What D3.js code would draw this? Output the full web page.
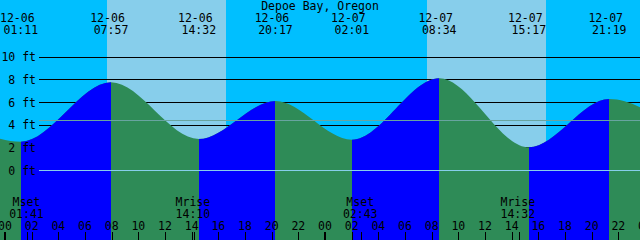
<!DOCTYPE html>
<html>
<head>
<meta charset="utf-8">
<script src="https://cdn.jsdelivr.net/npm/d3@7"></script>
<style>
  body { margin: 0; background: #fff; }
  svg { display: block; }
  text { font-family: "DejaVu Sans Mono", monospace; font-size: 11.5px; fill: #000; }
  rect, line { shape-rendering: crispEdges; }
</style>
</head>
<body>
<svg id="chart"></svg>
<script>
// Tide extrema (first and last are off-screen, they shape the edges)
const tideTimes = ["12-05 18:25", "12-06 01:11", "12-06 07:57", "12-06 14:32", "12-06 20:17",
                   "12-07 02:01", "12-07 08:34", "12-07 15:17", "12-07 21:19", "12-08 03:10"];
const tideHeights = [6.0, 2.5, 7.74, 2.73, 6.09, 2.68, 8.1, 2.0, 6.26, 2.7];

// Sun
const sunRise = ["12-06 07:38", "12-07 07:38"];
const sunSet = ["12-06 16:35", "12-07 16:35"];

// Moon events
const moonNames = ["Mset", "Mrise", "Mset", "Mrise"];
const moonTimes = ["12-06 01:41", "12-06 14:10", "12-07 02:43", "12-07 14:32"];

// Height axis
const heightTicks = [10, 8, 6, 4, 2, 0];
const meanLevel = 4.39;
const title = "Depoe Bay, Oregon";

const width = 640;
const height = 240;

// hours since 12-06 00:00
const parseT = s => (+s.slice(3, 5) - 6) * 24 + (+s.slice(6, 8)) + (+s.slice(9, 11)) / 60;

const x = d3.scaleLinear().domain([0, 48]).range([5, 645]);
const y = d3.scaleLinear().domain([0, 10]).range([170, 56.7]);
const px = t => Math.round(x(t));

const svg = d3.select("#chart")
    .attr("width", width)
    .attr("height", height);

// Night background, then day bands
svg.append("rect")
    .attr("width", width)
    .attr("height", height)
    .attr("fill", "#00bfff");

svg.selectAll(".day")
    .data(sunRise.map((d, i) => [parseT(d), parseT(sunSet[i])]))
    .enter().append("rect")
    .attr("class", "day")
    .attr("x", d => px(d[0]))
    .attr("width", d => px(d[1]) - px(d[0]))
    .attr("y", 0)
    .attr("height", height)
    .attr("fill", "#87ceeb");

// Height grid lines (behind the water)
svg.selectAll(".grid")
    .data(heightTicks.filter(d => d !== 0))
    .enter().append("line")
    .attr("class", "grid")
    .attr("x1", 39).attr("x2", width)
    .attr("y1", d => Math.round(y(d)) + 0.5)
    .attr("y2", d => Math.round(y(d)) + 0.5)
    .attr("stroke", "#000");

// Tide curve
const tide = tideTimes.map((t, i) => ({ t: parseT(t), h: tideHeights[i] }));

const area = d3.area()
    .x(d => x(d.t))
    .y0(height)
    .y1(d => y(d.h))
    .curve(d3.curveMonotoneX);

svg.append("clipPath")
    .attr("id", "water")
    .append("path")
    .attr("d", area(tide));

// falling water = green underneath, rising parts painted blue
svg.append("path")
    .attr("d", area(tide))
    .attr("fill", "#2e8b57");

svg.append("g")
    .attr("clip-path", "url(#water)")
    .selectAll("rect")
    .data(d3.pairs(tide).filter(d => d[1].h > d[0].h))
    .enter().append("rect")
    .attr("x", d => px(d[0].t))
    .attr("width", d => px(d[1].t) - px(d[0].t))
    .attr("y", 0)
    .attr("height", height)
    .attr("fill", "#0000ff");

// Mean level and datum lines on top
svg.append("line")
    .attr("x1", 39).attr("x2", width)
    .attr("y1", Math.round(y(meanLevel)) + 0.5)
    .attr("y2", Math.round(y(meanLevel)) + 0.5)
    .attr("stroke", "#68a4a0");

svg.append("line")
    .attr("x1", 39).attr("x2", width)
    .attr("y1", Math.round(y(0)) + 0.5)
    .attr("y2", Math.round(y(0)) + 0.5)
    .attr("stroke", "#87ceeb");

// Height labels
svg.selectAll(".hlabel")
    .data(heightTicks)
    .enter().append("text")
    .attr("class", "hlabel")
    .attr("x", 36)
    .attr("y", d => y(d) + 4.5)
    .attr("text-anchor", "end")
    .text(d => `${d} ft`);

// Title
svg.append("text")
    .attr("x", width / 2)
    .attr("y", 9.5)
    .attr("text-anchor", "middle")
    .text(title);

// Extrema labels
const shown = tide.slice(1, -1).map((d, i) => ({ t: d.t, s: tideTimes[i + 1] }));

svg.selectAll(".edate")
    .data(shown)
    .enter().append("text")
    .attr("class", "edate")
    .attr("x", d => x(d.t) - 3.5)
    .attr("y", 22)
    .attr("text-anchor", "middle")
    .text(d => d.s.slice(0, 5));

svg.selectAll(".etime")
    .data(shown)
    .enter().append("text")
    .attr("class", "etime")
    .attr("x", d => x(d.t))
    .attr("y", 34)
    .attr("text-anchor", "middle")
    .text(d => d.s.slice(6));

// Moon events
const moon = moonTimes.map((s, i) => ({ t: parseT(s), name: moonNames[i], s: s }));

svg.selectAll(".mname")
    .data(moon)
    .enter().append("text")
    .attr("class", "mname")
    .attr("x", d => x(d.t) - 1)
    .attr("y", 206)
    .attr("text-anchor", "middle")
    .text(d => d.name);

svg.selectAll(".mtime")
    .data(moon)
    .enter().append("text")
    .attr("class", "mtime")
    .attr("x", d => x(d.t) - 1)
    .attr("y", 218)
    .attr("text-anchor", "middle")
    .text(d => d.s.slice(6));

svg.selectAll(".mtick")
    .data(moon)
    .enter().append("line")
    .attr("class", "mtick")
    .attr("x1", d => px(d.t) + 0.5)
    .attr("x2", d => px(d.t) + 0.5)
    .attr("y1", 232).attr("y2", height)
    .attr("stroke", "#000");

// Hour axis
const hours = d3.range(0, 50, 2);

svg.selectAll(".htick")
    .data(hours)
    .enter().append("line")
    .attr("class", "htick")
    .attr("x1", d => d % 24 === 0 ? px(d) : px(d) + 0.5)
    .attr("x2", d => d % 24 === 0 ? px(d) : px(d) + 0.5)
    .attr("y1", 232).attr("y2", height)
    .attr("stroke", "#000")
    .attr("stroke-width", d => d % 24 === 0 ? 2 : 1);

svg.selectAll(".hlab")
    .data(hours)
    .enter().append("text")
    .attr("class", "hlab")
    .attr("x", d => x(d))
    .attr("y", 230)
    .attr("text-anchor", "middle")
    .text(d => d3.format("02d")(d % 24));
</script>
</body>
</html>
